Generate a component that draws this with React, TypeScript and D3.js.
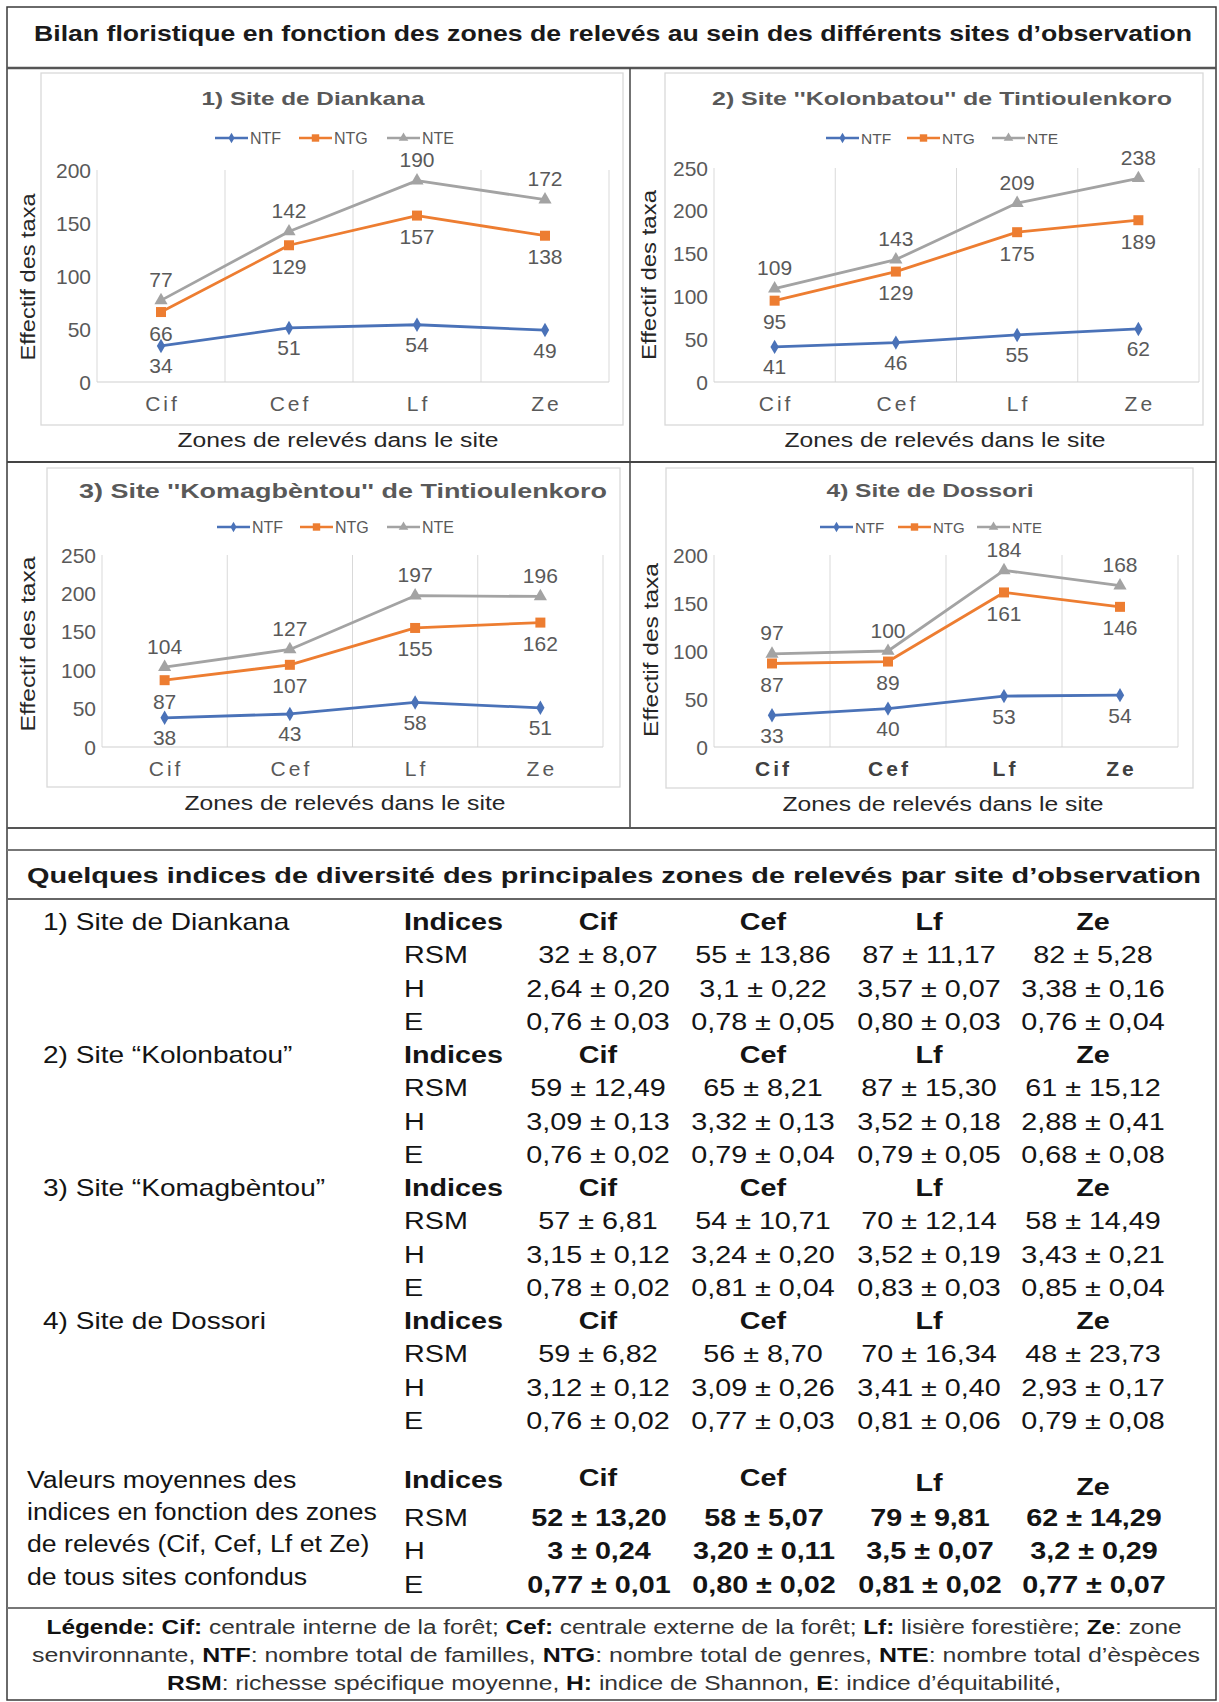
import React from 'react';
import * as d3 from 'd3';

const FONT = "'Liberation Sans', Arial, Helvetica, sans-serif";

// ---------------- chart data ----------------
const ZONES = ['Cif', 'Cef', 'Lf', 'Ze'];
const SERIES = ['NTF', 'NTG', 'NTE'];
const SITE_TITLES = [
  '1) Site de Diankana',
  "2) Site ''Kolonbatou'' de Tintioulenkoro",
  "3) Site ''Komagbèntou'' de Tintioulenkoro",
  '4) Site de Dossori',
];
const DIANKANA_NTF = [34, 51, 54, 49];
const DIANKANA_NTG = [66, 129, 157, 138];
const DIANKANA_NTE = [77, 142, 190, 172];
const KOLONBATOU_NTF = [41, 46, 55, 62];
const KOLONBATOU_NTG = [95, 129, 175, 189];
const KOLONBATOU_NTE = [109, 143, 209, 238];
const KOMAGBENTOU_NTF = [38, 43, 58, 51];
const KOMAGBENTOU_NTG = [87, 107, 155, 162];
const KOMAGBENTOU_NTE = [104, 127, 197, 196];
const DOSSORI_NTF = [33, 40, 53, 54];
const DOSSORI_NTG = [87, 89, 161, 146];
const DOSSORI_NTE = [97, 100, 184, 168];
const Y_MAX = [200, 250, 250, 200];
const Y_STEP = 50;

// ---------------- table data ----------------
const TABLE_SITES = ['1) Site de Diankana', '2) Site “Kolonbatou”', '3) Site “Komagbèntou”', '4) Site de Dossori'];
const INDEX_NAMES = ['RSM', 'H', 'E'];
const DIANKANA_IDX = [
  ['32 ± 8,07', '55 ± 13,86', '87 ± 11,17', '82 ± 5,28'],
  ['2,64 ± 0,20', '3,1 ± 0,22', '3,57 ± 0,07', '3,38 ± 0,16'],
  ['0,76 ± 0,03', '0,78 ± 0,05', '0,80 ± 0,03', '0,76 ± 0,04'],
];
const KOLONBATOU_IDX = [
  ['59 ± 12,49', '65 ± 8,21', '87 ± 15,30', '61 ± 15,12'],
  ['3,09 ± 0,13', '3,32 ± 0,13', '3,52 ± 0,18', '2,88 ± 0,41'],
  ['0,76 ± 0,02', '0,79 ± 0,04', '0,79 ± 0,05', '0,68 ± 0,08'],
];
const KOMAGBENTOU_IDX = [
  ['57 ± 6,81', '54 ± 10,71', '70 ± 12,14', '58 ± 14,49'],
  ['3,15 ± 0,12', '3,24 ± 0,20', '3,52 ± 0,19', '3,43 ± 0,21'],
  ['0,78 ± 0,02', '0,81 ± 0,04', '0,83 ± 0,03', '0,85 ± 0,04'],
];
const DOSSORI_IDX = [
  ['59 ± 6,82', '56 ± 8,70', '70 ± 16,34', '48 ± 23,73'],
  ['3,12 ± 0,12', '3,09 ± 0,26', '3,41 ± 0,40', '2,93 ± 0,17'],
  ['0,76 ± 0,02', '0,77 ± 0,03', '0,81 ± 0,06', '0,79 ± 0,08'],
];
const MEAN_IDX = [
  ['52 ± 13,20', '58 ± 5,07', '79 ± 9,81', '62 ± 14,29'],
  ['3 ± 0,24', '3,20 ± 0,11', '3,5 ± 0,07', '3,2 ± 0,29'],
  ['0,77 ± 0,01', '0,80 ± 0,02', '0,81 ± 0,02', '0,77 ± 0,07'],
];
const MEAN_LABEL_LINES = ['Valeurs moyennes des', 'indices en fonction des zones', 'de relevés (Cif, Cef, Lf et Ze)', 'de tous sites confondus'];

const MAIN_TITLE = "Bilan floristique en fonction des zones de relevés au sein des différents sites d’observation";
const TABLE_TITLE = "Quelques indices de diversité des principales zones de relevés par site d’observation";
const X_TITLE = 'Zones de relevés dans le site';
const Y_TITLE = 'Effectif des taxa';

// ---------------- styles / layout ----------------
const COLORS: Record<string, string> = { NTF: '#4A72B8', NTG: '#ED7D31', NTE: '#A3A3A3' };
const LABEL_COLOR = '#595959';

const LAYOUT = [
  { box: [41, 73, 623, 425], px0: 97, px1: 609, yTop: 170, yBot: 382, titleX: 313, titleY: 98, titleSize: 19, titleLen: 223,
    legendX: 215, legendY: 138, legendOff: [0, 84, 172], legendFont: 16, yTitleX: 28, yTitleY: 277, yTitleLen: 167, xTitleX: 338, xTitleY: 440, boldCats: false },
  { box: [665, 73, 1203, 425], px0: 714, px1: 1199, yTop: 168, yBot: 382, titleX: 942, titleY: 98, titleSize: 19, titleLen: 460,
    legendX: 826, legendY: 138, legendOff: [0, 81, 166], legendFont: 15.5, yTitleX: 649, yTitleY: 275, yTitleLen: 170, xTitleX: 945, xTitleY: 440, boldCats: false },
  { box: [47, 468, 620, 787], px0: 102, px1: 603, yTop: 555, yBot: 747, titleX: 343, titleY: 490, titleSize: 21, titleLen: 528,
    legendX: 217, legendY: 527, legendOff: [0, 83, 170], legendFont: 16, yTitleX: 28, yTitleY: 644, yTitleLen: 175, xTitleX: 345, xTitleY: 803, boldCats: false },
  { box: [666, 468, 1193, 788], px0: 714, px1: 1178, yTop: 555, yBot: 747, titleX: 930, titleY: 490, titleSize: 19, titleLen: 207,
    legendX: 820, legendY: 527, legendOff: [0, 78, 157], legendFont: 15, yTitleX: 651, yTitleY: 650, yTitleLen: 174, xTitleX: 943, xTitleY: 804, boldCats: true },
];

const SITE_SERIES = [
  [DIANKANA_NTF, DIANKANA_NTG, DIANKANA_NTE],
  [KOLONBATOU_NTF, KOLONBATOU_NTG, KOLONBATOU_NTE],
  [KOMAGBENTOU_NTF, KOMAGBENTOU_NTG, KOMAGBENTOU_NTE],
  [DOSSORI_NTF, DOSSORI_NTG, DOSSORI_NTE],
];

const SYMBOL_TYPES = [d3.symbolDiamond, d3.symbolSquare, d3.symbolTriangle];
const SYMBOL_SIZES = [60, 100, 75];
const LEGEND_SYMBOL_SIZES = [32, 55, 40];
const LABEL_DY = [20, 21, -21];

function SiteChart({ idx }: { idx: number }) {
  const L = LAYOUT[idx];
  const yMax = Y_MAX[idx];
  const series = SITE_SERIES[idx];
  const x = d3.scaleBand<string>().domain(ZONES).range([L.px0, L.px1]).padding(0);
  const y = d3.scaleLinear().domain([0, yMax]).range([L.yBot, L.yTop]);
  const ticks = d3.range(0, yMax + 1, Y_STEP);
  const cx = (z: string) => (x(z) as number) + x.bandwidth() / 2;
  const line = d3.line<number>().x((_, i) => cx(ZONES[i])).y((v) => y(v));
  const bounds = d3.range(ZONES.length + 1).map((i) => L.px0 + i * x.bandwidth());
  const [bx0, by0, bx1, by1] = L.box;

  return (
    <g>
      <rect x={bx0} y={by0} width={bx1 - bx0} height={by1 - by0} fill="#fff" stroke="#D9D9D9" strokeWidth={1.3} />
      <text x={L.titleX} y={L.titleY} textAnchor="middle" dominantBaseline="central" fontSize={L.titleSize} fontWeight="bold"
        fill="#595959" textLength={L.titleLen} lengthAdjust="spacingAndGlyphs">{SITE_TITLES[idx]}</text>

      {SERIES.map((s, i) => {
        const lx = L.legendX + L.legendOff[i];
        return (
          <g key={s}>
            <line x1={lx} x2={lx + 33} y1={L.legendY} y2={L.legendY} stroke={COLORS[s]} strokeWidth={2.5} />
            <path d={d3.symbol().type(SYMBOL_TYPES[i]).size(LEGEND_SYMBOL_SIZES[i])() as string}
              transform={`translate(${lx + 16.5},${L.legendY})`} fill={COLORS[s]} />
            <text x={lx + 35} y={L.legendY} dominantBaseline="central" fontSize={L.legendFont} fill="#595959">{s}</text>
          </g>
        );
      })}

      {bounds.map((bx, i) => (
        <line key={i} x1={bx} x2={bx} y1={L.yTop} y2={L.yBot} stroke="#D9D9D9" strokeWidth={1} />
      ))}
      <line x1={L.px0} x2={L.px1} y1={L.yBot} y2={L.yBot} stroke="#D0D0D0" strokeWidth={1.2} />

      {ticks.map((t) => (
        <text key={t} x={L.px0 - 6} y={y(t)} textAnchor="end" dominantBaseline="central" fontSize={21} fill={LABEL_COLOR}>{t}</text>
      ))}

      {ZONES.map((z) => (
        <text key={z} x={cx(z) + 1.5} y={L.yBot + 21} textAnchor="middle" dominantBaseline="central" fontSize={21}
          fontWeight={L.boldCats ? 'bold' : 'normal'} fill={L.boldCats ? '#404040' : LABEL_COLOR}
          style={{ letterSpacing: '3px' }}>{z}</text>
      ))}

      {series.map((vals, si) => (
        <g key={si}>
          <path d={line(vals) as string} fill="none" stroke={COLORS[SERIES[si]]} strokeWidth={2.8} strokeLinejoin="round" />
          {vals.map((v, i) => (
            <path key={i} d={d3.symbol().type(SYMBOL_TYPES[si]).size(SYMBOL_SIZES[si])() as string}
              transform={`translate(${cx(ZONES[i])},${y(v)})`} fill={COLORS[SERIES[si]]} />
          ))}
        </g>
      ))}
      {series.map((vals, si) => (
        <g key={'l' + si}>
          {vals.map((v, i) => (
            <text key={i} x={cx(ZONES[i])} y={y(v) + LABEL_DY[si]} textAnchor="middle" dominantBaseline="central"
              fontSize={21} fill={LABEL_COLOR}>{v}</text>
          ))}
        </g>
      ))}

      <text x={L.xTitleX} y={L.xTitleY} textAnchor="middle" dominantBaseline="central" fontSize={20} fill="#262626"
        textLength={321} lengthAdjust="spacingAndGlyphs">{X_TITLE}</text>
      <text transform={`translate(${L.yTitleX},${L.yTitleY}) rotate(-90)`} textAnchor="middle" dominantBaseline="central"
        fontSize={20} fill="#262626" textLength={L.yTitleLen} lengthAdjust="spacingAndGlyphs">{Y_TITLE}</text>
    </g>
  );
}

function ST({ x, y, anchor = 'start', bold = false, size = 23, sx = 1.25, children, fill = '#141414' }: any) {
  return (
    <text transform={`translate(${x},${y}) scale(${sx},1)`} textAnchor={anchor} dominantBaseline="central"
      fontSize={size} fontWeight={bold ? 'bold' : 'normal'} fill={fill}>{children}</text>
  );
}

const COL_X = [598, 763, 929, 1093];
const IDX_X = 404;
const ROW_H = 33.3;

function IndexTable() {
  const blocks = [DIANKANA_IDX, KOLONBATOU_IDX, KOMAGBENTOU_IDX, DOSSORI_IDX];
  return (
    <g>
      {blocks.map((blk, k) => {
        const base = 922 + k * 133;
        return (
          <g key={k}>
            <ST x={43} y={base} sx={1.22}>{TABLE_SITES[k]}</ST>
            <ST x={IDX_X} y={base} bold>Indices</ST>
            {ZONES.map((z, c) => (
              <ST key={z} x={COL_X[c]} y={base} anchor="middle" bold>{z}</ST>
            ))}
            {INDEX_NAMES.map((nm, r) => (
              <g key={nm}>
                <ST x={IDX_X} y={base + (r + 1) * ROW_H}>{nm}</ST>
                {blk[r].map((v, c) => (
                  <ST key={c} x={COL_X[c]} y={base + (r + 1) * ROW_H} anchor="middle">{v}</ST>
                ))}
              </g>
            ))}
          </g>
        );
      })}
      {MEAN_LABEL_LINES.map((t, i) => (
        <ST key={i} x={27} y={[1480, 1512, 1544, 1577][i]} sx={1.16}>{t}</ST>
      ))}
      <ST x={IDX_X} y={1480} bold>Indices</ST>
      {ZONES.map((z, c) => (
        <ST key={z} x={COL_X[c]} y={1480 + [-2, -2, 3, 7][c]} anchor="middle" bold>{z}</ST>
      ))}
      {INDEX_NAMES.map((nm, r) => (
        <g key={nm}>
          <ST x={IDX_X} y={1518 + r * 33.5}>{nm}</ST>
          {MEAN_IDX[r].map((v, c) => (
            <ST key={c} x={COL_X[c] + 1} y={1518 + r * 33.5} anchor="middle" bold>{v}</ST>
          ))}
        </g>
      ))}
    </g>
  );
}

function Legend() {
  const b = (t: string) => <tspan fontWeight="bold" fill="#111">{t}</tspan>;
  const r = (t: string) => <tspan fill="#333">{t}</tspan>;
  return (
    <g fontSize={20}>
      <text x={614} y={1627} textAnchor="middle" dominantBaseline="central" textLength={1135} lengthAdjust="spacingAndGlyphs">
        {b('Légende: Cif:')}{r(' centrale interne de la forêt; ')}{b('Cef:')}{r(' centrale externe de la forêt; ')}{b('Lf:')}{r(' lisière forestière; ')}{b('Ze')}{r(': zone')}
      </text>
      <text x={616} y={1655} textAnchor="middle" dominantBaseline="central" textLength={1168} lengthAdjust="spacingAndGlyphs">
        {r('senvironnante, ')}{b('NTF')}{r(': nombre total de familles, ')}{b('NTG')}{r(': nombre total de genres, ')}{b('NTE')}{r(': nombre total d’èspèces')}
      </text>
      <text x={614} y={1683} textAnchor="middle" dominantBaseline="central" textLength={894} lengthAdjust="spacingAndGlyphs">
        {b('RSM')}{r(': richesse spécifique moyenne, ')}{b('H:')}{r(' indice de Shannon, ')}{b('E')}{r(': indice d’équitabilité,')}
      </text>
    </g>
  );
}

export default function App() {
  return (
    <svg width={1219} height={1702} style={{ position: 'absolute', left: 0, top: 0, background: '#fff' }} fontFamily={FONT}>
      <rect x={0} y={0} width={1219} height={1702} fill="#fff" />
      <rect x={7} y={7} width={1209} height={1693} fill="none" stroke="#3a3a3a" strokeWidth={1.5} />
      <line x1={7} x2={1216} y1={68} y2={68} stroke="#555" strokeWidth={2.5} />
      <line x1={7} x2={1216} y1={462} y2={462} stroke="#444" strokeWidth={2} />
      <line x1={630} x2={630} y1={68} y2={828} stroke="#444" strokeWidth={1.5} />
      <line x1={7} x2={1216} y1={828} y2={828} stroke="#555" strokeWidth={2} />
      <line x1={7} x2={1216} y1={850} y2={850} stroke="#777" strokeWidth={2} />
      <line x1={7} x2={1216} y1={899} y2={899} stroke="#666" strokeWidth={2} />
      <line x1={7} x2={1216} y1={1608} y2={1608} stroke="#777" strokeWidth={2} />

      <text x={34} y={33} dominantBaseline="central" fontSize={22} fontWeight="bold" fill="#1a1a1a"
        textLength={1158} lengthAdjust="spacingAndGlyphs">{MAIN_TITLE}</text>

      {[0, 1, 2, 3].map((i) => <SiteChart key={i} idx={i} />)}

      <text x={27} y={875} dominantBaseline="central" fontSize={22} fontWeight="bold" fill="#1a1a1a"
        textLength={1174} lengthAdjust="spacingAndGlyphs">{TABLE_TITLE}</text>

      <IndexTable />
      <Legend />
    </svg>
  );
}
